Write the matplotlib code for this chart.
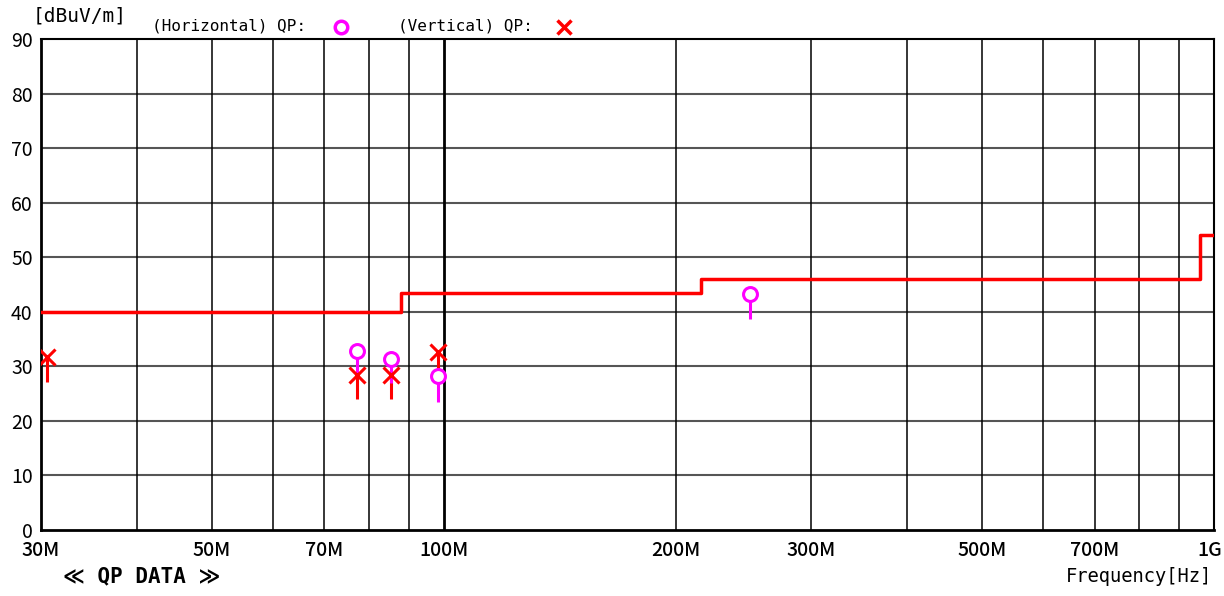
import matplotlib
matplotlib.use("Agg")
import matplotlib.pyplot as plt
import matplotlib.transforms as mtrans
import numpy as np

plt.rcParams['font.family'] = ['Noto Sans CJK JP', 'DejaVu Sans']

# Limit line (step) in MHz / dBuV/m
limit_freq = [30, 88, 88, 216, 216, 960, 960, 1000]
limit_level = [40, 40, 43.5, 43.5, 46, 46, 54, 54]

# Horizontal QP data
h_freq = [77.1, 85.4, 98.4, 249.7]
h_level = [32.9, 31.4, 28.3, 43.3]
h_low = [28.5, 27.0, 23.5, 38.6]

# Vertical QP data
v_freq = [30.5, 77.1, 85.4, 98.4]
v_level = [31.8, 28.5, 28.4, 32.7]
v_low = [27.2, 24.0, 24.0, 28.2]

x_grid = [40, 50, 60, 70, 80, 90, 100, 200, 300, 400, 500, 600, 700, 800, 900]
x_ticks = [30, 50, 70, 100, 200, 300, 500, 700, 1000]
x_ticklabels = ['30M', '50M', '70M', '100M', '200M', '300M', '500M', '700M', '1G']
y_ticks = list(range(0, 91, 10))

mono = ['DejaVu Sans Mono', 'DejaVu Sans']

fig = plt.figure(figsize=(12.24, 5.96), dpi=100)
ax = fig.add_axes([41/1224, 66/596, (1214-41)/1224, (530-39)/596])
ax.set_xscale('log')
ax.set_xlim(30, 1000)
ax.set_ylim(0, 90)

for y in y_ticks[1:-1]:
    ax.axhline(y, color='#555555', lw=1.5, zorder=1)
for x in x_grid:
    ax.axvline(x, color='black', lw=2.0 if x == 100 else 1.1, zorder=1)

ax.plot(limit_freq, limit_level, color='#ff0000', lw=2.5, zorder=3)

ax.vlines(v_freq, v_low, v_level, color='#ff0000', lw=2.2, zorder=4)
ax.vlines(h_freq, h_low, h_level, color='#ff00ff', lw=2.2, zorder=4)
ax.plot(v_freq, v_level, ls='none', marker='x', ms=11, mew=2.2, color='#ff0000', zorder=5)
ax.plot(h_freq, h_level, ls='none', marker='o', ms=10, mew=2.2, mfc='white', mec='#ff00ff', zorder=5)

ax.set_xticks(x_ticks)
ax.set_xticklabels(x_ticklabels)
ax.xaxis.set_minor_locator(matplotlib.ticker.NullLocator())
ax.set_yticks(y_ticks)
ax.tick_params(length=0, labelsize=14, pad=6)
ax.tick_params(axis='x', pad=8)
for lab in ax.get_xticklabels():
    lab.set_fontweight('medium')
last = ax.get_xticklabels()[-1]
last.set_transform(last.get_transform() + mtrans.ScaledTranslation(-4/100, 0, fig.dpi_scale_trans))
for s in ax.spines.values():
    s.set_linewidth(1.5)
    s.set_color('black')
ax.spines['left'].set_linewidth(2)
ax.spines['bottom'].set_linewidth(2)

fig.text(33/1224, 1-16/596, '[dBuV/m]', fontsize=14, va='center', ha='left', family=mono)
fig.text(152/1224, 1-26/596, '(Horizontal) QP:', fontsize=11.5, va='center', ha='left', family=mono)
fig.text(398/1224, 1-26/596, '(Vertical) QP:', fontsize=11.5, va='center', ha='left', family=mono)
fig.lines.append(matplotlib.lines.Line2D([341/1224], [1-27/596], transform=fig.transFigure,
                 ls='none', marker='o', ms=9, mew=2.5, mfc='white', mec='#ff00ff'))
fig.lines.append(matplotlib.lines.Line2D([564/1224], [1-27/596], transform=fig.transFigure,
                 ls='none', marker='x', ms=10, mew=2.5, color='#ff0000'))
fig.text(63/1224, 1-576/596, '≪ QP DATA ≫', fontsize=15, fontweight='bold', va='center', ha='left',
         family=mono)
fig.text(1212/1224, 1-576/596, 'Frequency[Hz]', fontsize=13.5, va='center', ha='right', family=mono)

fig.savefig('out.png', dpi=100, facecolor='white')
